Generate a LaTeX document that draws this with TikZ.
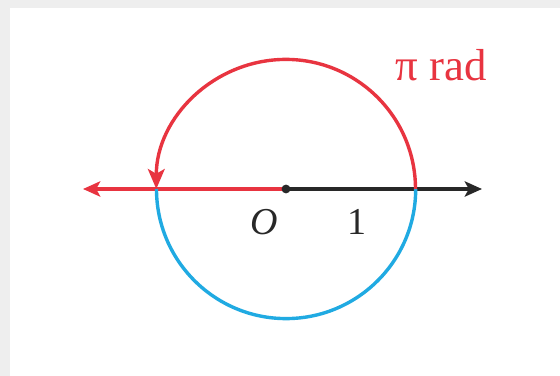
\documentclass[tikz,border=0pt]{standalone}
\usepackage{fontspec}
\setmainfont{Liberation Serif}
\usetikzlibrary{arrows.meta}
\definecolor{arcred}{RGB}{232,52,64}
\definecolor{arcblue}{RGB}{32,170,226}
\definecolor{axisgray}{RGB}{40,40,40}
\definecolor{framegray}{RGB}{238,238,238}

\begin{document}
\begin{tikzpicture}[x=0.25pt, y=0.25pt,
  every node/.style={font=\fontsize{9.5}{11}\selectfont},
  axisarrow/.style={-{Stealth[length=4.3pt, width=3.8pt, inset=1pt]}},
  arcarrow/.style={-{Stealth[length=5pt, width=4.2pt, inset=1.2pt]}},
  curve/.style={line width=0.85pt},
  numlabel/.style={inner sep=0pt, text=axisgray}
]
% frame
\fill[framegray] (-286,-187) rectangle (274,189);
\fill[white] (-276,-187) rectangle (274,181);
\useasboundingbox (-286,-187) rectangle (274,189);

\coordinate (O) at (0,0);
\coordinate (east) at (129.5,0);
\coordinate (west) at (-129.5,0);
\coordinate (negend) at (-203,0);
\coordinate (posend) at (196,0);

% axis
\draw[curve, arcred, axisarrow] (O) -- (negend);
\draw[curve, axisgray, axisarrow] (O) -- (posend);

% unit circle
\draw[curve, arcblue] (west) arc[start angle=180, end angle=360, radius=32.4pt];
\draw[curve, arcred, arcarrow] (east) arc[start angle=0, end angle=180, radius=32.4pt];
\fill[axisgray] (O) circle[radius=1.1pt];

\node[numlabel] (olabel) at (-22,-33) {\itshape O};
\node[numlabel] (onelabel) at (71,-33) {1};
\node[inner sep=0pt, text=arcred, font=\fontsize{11.2}{13}\selectfont] (angle) at (155,124) {π rad};
\end{tikzpicture}
\end{document}
